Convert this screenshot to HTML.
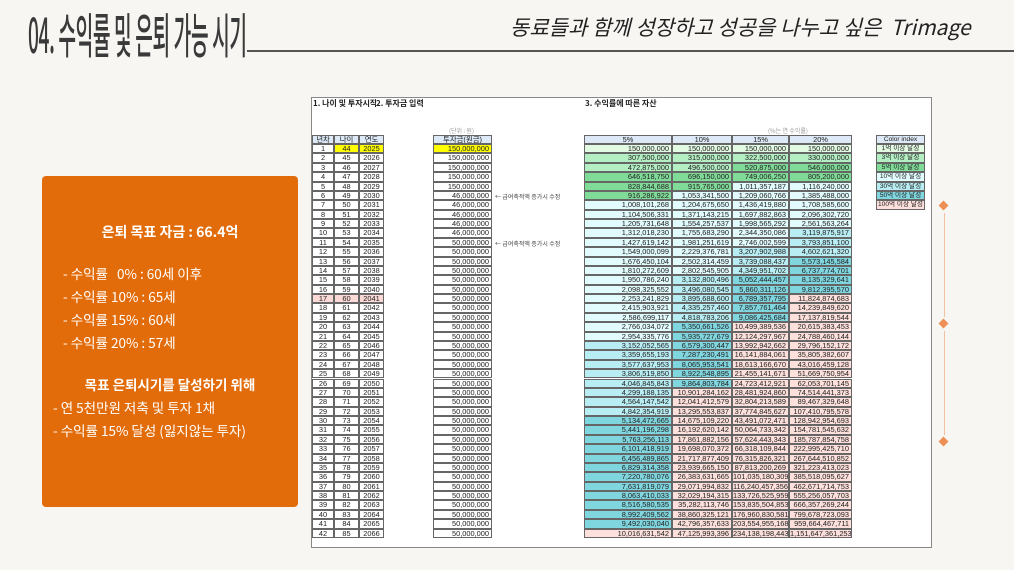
<!DOCTYPE html>
<html><head><meta charset="utf-8">
<style>
*{margin:0;padding:0;box-sizing:border-box}
body{width:1014px;height:570px;background:#f7f6f2;position:relative;overflow:hidden;font-family:"Liberation Sans","Noto Sans CJK KR",sans-serif}
.abs{position:absolute}
#title{left:28px;top:4px;font-family:"Noto Sans CJK KR",sans-serif;font-weight:500;font-size:48px;color:#3a3a3a;white-space:nowrap;transform:scaleX(0.40);transform-origin:left top;line-height:56px;letter-spacing:-1px}
#subtitle{left:510px;top:13px;font-family:"Noto Sans CJK KR",sans-serif;font-style:italic;font-size:21px;color:#222;white-space:nowrap;line-height:28px}
#rule{left:247px;top:50px;width:767px;height:2px;background:#555}
#box{left:42px;top:176px;width:256px;height:331px;background:#e36c0a;border-radius:4px;color:#fff;font-family:"Noto Sans CJK KR",sans-serif}
#box div{position:absolute;white-space:nowrap;font-size:13.5px;line-height:18px}
#sheet{left:311px;top:97px;width:621px;height:451px;background:#fff;border:1px solid #888}
.c{position:absolute;font-size:7.4px;line-height:9px;color:#222;white-space:nowrap;overflow:hidden;border:0.5px solid #666;font-family:"Liberation Sans","Noto Sans CJK KR",sans-serif}
.r{text-align:right;padding-right:2px}
.m{text-align:center}
.h{background:#dde9f7}
.ci{font-size:6.6px}
.sec{position:absolute;font-size:8px;font-weight:700;color:#222;white-space:nowrap;overflow:hidden;font-family:"Noto Sans CJK KR",sans-serif}
.note{position:absolute;font-size:6px;color:#444;white-space:nowrap;font-family:"Noto Sans CJK KR",sans-serif}
.dia{position:absolute;width:7px;height:7px;background:#ee9055;transform:rotate(45deg)}
.vl{position:absolute;width:1px;background:#f0c0a0}
</style></head><body>
<div id="title" class="abs">04. 수익률 및 은퇴 가능 시기</div>
<div id="subtitle" class="abs">동료들과 함께 성장하고 성공을 나누고 싶은 &nbsp;Trimage</div>
<div id="rule" class="abs"></div>

<div id="box" class="abs">
<div style="left:0;width:256px;text-align:center;top:47px;font-weight:700;font-size:14px">은퇴 목표 자금 : 66.4억</div>
<div style="left:21px;top:88px">- 수익률 &nbsp;&nbsp;0% : 60세 이후</div>
<div style="left:21px;top:111px">- 수익률 10% : 65세</div>
<div style="left:21px;top:134px">- 수익률 15% : 60세</div>
<div style="left:21px;top:157px">- 수익률 20% : 57세</div>
<div style="left:0;width:256px;text-align:center;top:199px;font-weight:700">목표 은퇴시기를 달성하기 위해</div>
<div style="left:11px;top:222px">- 연 5천만원 저축 및 투자 1채</div>
<div style="left:11px;top:245px">- 수익률 15% 달성 (잃지않는 투자)</div>
</div>

<div id="sheet" class="abs"></div>

<div class="vl" style="left:944px;top:213px;height:104px"></div>
<div class="vl" style="left:944px;top:331px;height:104px"></div>
<div class="dia" style="left:940px;top:202px"></div>
<div class="dia" style="left:940px;top:320px"></div>
<div class="dia" style="left:940px;top:438px"></div>

<script>
const startAge = 44;
const startYear = 2025;
const investments = [150000000,150000000,150000000,150000000,150000000,46000000,46000000,46000000,46000000,46000000,
50000000,50000000,50000000,50000000,50000000,50000000,50000000,50000000,50000000,50000000,
50000000,50000000,50000000,50000000,50000000,50000000,50000000,50000000,50000000,50000000,
50000000,50000000,50000000,50000000,50000000,50000000,50000000,50000000,50000000,50000000,
50000000,50000000];
const rateLabels = ['5%','10%','15%','20%'];
const rates = [0.05,0.10,0.15,0.20];
const levelThresholds = [1e8,3e8,5e8,1e9,3e9,5e9,1e10];
const levelLabels = ['1억 이상 달성','3억 이상 달성','5억 이상 달성','10억 이상 달성','30억 이상 달성','50억 이상 달성','100억 이상 달성'];
const levelColors = ['#e3fae3','#b4eec3','#80db98','#e2fbfd','#b8eef3','#80d6df','#fde0dc'];

const rowTop = 144, rowH = 9.38;
function cell(x,y,w,h,txt,cls,bg){
  const d=document.createElement('div');
  d.className='c '+cls;
  d.style.left=x+'px';d.style.top=y+'px';d.style.width=w+'px';d.style.height=h+'px';
  d.style.lineHeight=(h-1)+'px';
  if(bg)d.style.background=bg;
  d.textContent=txt;
  document.body.appendChild(d);
  return d;
}
function fmt(v){return Math.round(v).toLocaleString('en-US');}
function colorFor(v){let c='#ffffff';levelThresholds.forEach((t,i)=>{if(v>=t)c=levelColors[i];});return c;}

[['1. 나이 및 투자시작 년도 입력',313,63],['2. 투자금 입력',376,80],['3. 수익률에 따른 자산',585,120]].forEach(([t,x,w])=>{
  const s=document.createElement('div');s.className='sec';s.style.left=x+'px';s.style.top='98px';s.style.width=w+'px';s.textContent=t;
  
  
  document.body.appendChild(s);
});
[['(단위 : 원)',449,126],['(%는 연 수익률)',768,126]].forEach(([t,x,y])=>{
  const s=document.createElement('div');s.className='note';s.style.left=x+'px';s.style.top=y+'px';s.style.color='#999';s.textContent=t;
  
  
  document.body.appendChild(s);
});

const hy=134.5, hh=9.5;
let e;
e=cell(312,hy,22,hh,'년차','m h');
e=cell(334,hy,25,hh,'나이','m h');
e=cell(359,hy,25,hh,'연도','m h');
e=cell(433,hy,59,hh,'투자금(원금)','m h');
const assetX=[584,672,732,789], assetW=[88,60,57,63];
rateLabels.forEach((l,i)=>{e=cell(assetX[i],hy,assetW[i],hh,l,'m h');
  
  });
e=cell(876,hy,49,hh,'Color index','m h ci');
levelLabels.forEach((l,i)=>{e=cell(876,rowTop+i*rowH,49,rowH,l,'m ci',levelColors[i]);
  
  });

const assets = rates.map(()=>0);
investments.forEach((inv,n)=>{
  const y=rowTop+n*rowH;
  const pink = (startAge+n===60)?'#fbd9d6':null;
  const yel = n===0?'#ffff00':pink;
  e=cell(312,y,22,rowH,String(n+1),'m',pink);
  e=cell(334,y,25,rowH,String(startAge+n),'m',yel);
  e=cell(359,y,25,rowH,String(startYear+n),'m',yel);
  e=cell(433,y,59,rowH,fmt(inv),'r',n===0?'#ffff00':null);
  rates.forEach((r,i)=>{
    assets[i]=assets[i]*(1+r)+inv;
    e=cell(assetX[i],y,assetW[i],rowH,fmt(assets[i]),'r',colorFor(assets[i]));
    
    
  });
});
[[5,'← 급여축적액 증가시 수정'],[10,'← 급여축적액 증가시 수정']].forEach(([n,t])=>{
  const s=document.createElement('div');s.className='note';s.style.left='495px';s.style.top=(rowTop+n*rowH+1)+'px';s.textContent=t;
  
  
  document.body.appendChild(s);
});
</script>
</body></html>
